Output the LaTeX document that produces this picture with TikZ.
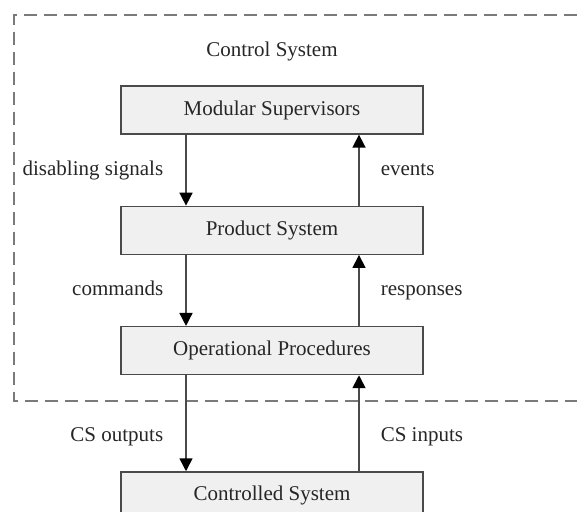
\documentclass[tikz,border=0pt]{standalone}
\usepackage{fontspec}
\setmainfont{Liberation Serif}
\usetikzlibrary{arrows.meta,positioning}
\definecolor{csfill}{HTML}{F0F0F0}
\definecolor{csline}{HTML}{4A4A4A}
\definecolor{csdash}{HTML}{7A7A7A}

\begin{document}
\begin{tikzpicture}[
  every node/.style={font=\fontsize{10.5}{12}\selectfont,text=black!85},
  block/.style={draw=csline,line width=0.65pt,fill=csfill,minimum width=151pt,minimum height=24pt,inner sep=0pt},
  arr/.style={-{Triangle[length=6.5pt,width=6.5pt,color=black]},line width=0.8pt,draw=csline},
  lbl/.style={inner sep=0pt,text height=7.5pt,text depth=2.5pt},
  frame/.style={draw=csdash,line width=1pt,dash pattern=on 6.5pt off 3.5pt}
]
\useasboundingbox (0,0) rectangle (288.5pt,-256pt);
% control system boundary (open to the right)
\draw[frame] (288.5pt,-7.5pt) -- (7pt,-7.5pt) -- (7pt,-200.5pt) -- (288.5pt,-200.5pt);
\node[block] (sup) at (136pt,-55pt) {Modular Supervisors};
\node[block,below=35.5pt of sup] (prod) {Product System};
\node[block,below=35.5pt of prod] (proc) {Operational Procedures};
\node[block,below=48pt of proc] (plant) {Controlled System};
\node[lbl] (title) at ([yshift=17pt]sup.north) {Control System};
\draw[arr] ([xshift=-43pt]sup.south) -- ([xshift=-43pt]prod.north) node[lbl,midway,left=11pt] {disabling signals};
\draw[arr] ([xshift=43.5pt]prod.north) -- ([xshift=43.5pt]sup.south) node[lbl,midway,right=10.5pt] {events};
\draw[arr] ([xshift=-43pt]prod.south) -- ([xshift=-43pt]proc.north) node[lbl,midway,left=11pt] {commands};
\draw[arr] ([xshift=43.5pt]proc.north) -- ([xshift=43.5pt]prod.south) node[lbl,midway,right=10.5pt] {responses};
\draw[arr] ([xshift=-43pt]proc.south) -- ([xshift=-43pt]plant.north) node[lbl,pos=0.64,left=11pt] {CS outputs};
\draw[arr] ([xshift=43.5pt]plant.north) -- ([xshift=43.5pt]proc.south) node[lbl,pos=0.36,right=10.5pt] {CS inputs};
\end{tikzpicture}
\end{document}
